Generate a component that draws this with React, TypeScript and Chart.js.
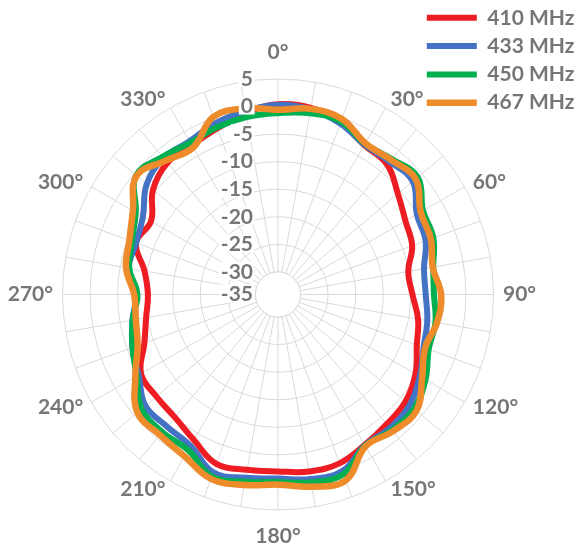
import React, { useEffect, useRef } from 'react';
import { Chart, registerables } from 'chart.js';

Chart.register(...registerables);

// ---------- data ----------
const ANGLES = [0, 10, 20, 30, 40, 50, 60, 70, 80, 90, 100, 110, 120, 130, 140, 150, 160, 170,
  180, 190, 200, 210, 220, 230, 240, 250, 260, 270, 280, 290, 300, 310, 320, 330, 340, 350];
const ANGLE_LABELS = ANGLES.map((a) => `${a}°`);

const SERIES_NAMES = ['410 MHz', '433 MHz', '450 MHz', '467 MHz'];
const SERIES_COLORS = ['#EE1D23', '#4472C4', '#00B050', '#EE8B2B'];

const GAIN_410 = [0.4, 0.3, -0.8, -2.8, -3.3, -5.7, -7.4, -8.2, -10.1, -9.7, -8.3, -7.3, -5.3, -3.9, -3.4, -2.6, -1.5, -1.5,
  -2.0, -1.8, -1.4, -3.6, -5.0, -5.3, -5.4, -8.3, -9.8, -10.5, -9.5, -6.7, -7.5, -4.5, -2.9, -2.8, -2.0, -0.6];
const GAIN_433 = [0.3, 0.0, -1.1, -2.7, -2.6, -2.2, -5.0, -5.6, -7.2, -7.3, -6.6, -6.0, -4.4, -2.9, -2.5, -2.5, 0.0, -0.1,
  -0.7, -0.35, 0.25, -2.4, -2.8, -2.7, -4.9, -6.0, -7.3, -8.3, -6.6, -6.7, -5.8, -3.0, -1.8, -2.0, -1.0, -0.3];
const GAIN_450 = [-1.2, -0.7, -0.7, -2.5, -2.0, -1.0, -3.7, -4.1, -5.5, -5.8, -5.1, -5.0, -3.2, -1.9, -2.0, -2.4, 0.6, 0.5,
  -0.1, 0.4, 1.0, -1.5, -1.5, -1.8, -4.5, -6.0, -7.3, -8.6, -6.7, -5.9, -4.3, -0.5, -1.5, -2.3, -1.8, -1.4];
const GAIN_467 = [-0.6, 0.1, -0.2, -2.4, -2.2, -1.5, -4.2, -4.6, -5.6, -4.5, -4.8, -5.7, -3.9, -1.3, -1.7, -2.3, 1.8, 1.3,
  0.4, 1.0, 1.5, -0.2, -0.8, -0.8, -4.2, -7.0, -7.9, -8.0, -6.1, -5.4, -3.7, -0.6, -2.4, -3.3, 0.2, 0.2];
const SERIES_VALUES = [GAIN_410, GAIN_433, GAIN_450, GAIN_467];

const RADIAL_TICK_LABELS = ['-35', '-30', '-25', '-20', '-15', '-10', '-5', '0', '5'];
const R_MIN = -34.1;
const R_MAX = 5;
const R_STEP = 5;

// ---------- style / layout ----------
const TEXT_GRAY = '#767676';
const GRID_GRAY = '#d9d9d9';
const FONT_FAMILY = 'Lato';
const POINT_LABEL_SIZE = 21;
const TICK_SIZE = 21;
const LEGEND_SIZE = 21;
const LAYOUT = { cx: 278, cy: 294.5, radius: 215.5, labelGap: 9.5, poleShift: 17, tickRight: 25 };
const LEGEND_POS = { left: 419.5, top: 0 };

function placeScale(scale: any) {
  const { cx, cy, radius, labelGap, poleShift } = LAYOUT;
  scale.xCenter = cx;
  scale.yCenter = cy;
  scale.drawingArea = radius;
  const items = scale._pointLabelItems;
  if (!items) return;
  const ctx = scale.ctx;
  ctx.save();
  ctx.font = `bold ${POINT_LABEL_SIZE}px ${FONT_FAMILY}`;
  const lh = POINT_LABEL_SIZE * 1.2;
  items.forEach((it: any, i: number) => {
    const text = scale._pointLabels[i] || '';
    const a = scale.getIndexAngle(i);
    const s = Math.sin(a);
    const c = Math.cos(a);
    const d = radius + labelGap;
    const w = text ? ctx.measureText(text).width : 0;
    let x = cx + d * s;
    let y = cy - d * c;
    if (Math.abs(s) > 1e-3) x += Math.sign(s) * w / 2;
    else y += -Math.sign(c) * poleShift;
    it.textAlign = 'center';
    it.x = x;
    it.y = y - lh / 2;
    it.left = x - w / 2;
    it.right = x + w / 2;
    it.top = y - lh / 2;
    it.bottom = y + lh / 2;
  });
  ctx.restore();
}

const centerHolePlugin = {
  id: 'centerHole',
  beforeDatasetsDraw(chart: any) {
    const sc = chart.scales.r;
    if (!sc) return;
    const ctx = chart.ctx;
    const r = sc.getDistanceFromCenterForValue(-30);
    ctx.save();
    ctx.beginPath();
    ctx.arc(sc.xCenter, sc.yCenter, r, 0, Math.PI * 2);
    ctx.fillStyle = '#ffffff';
    ctx.fill();
    ctx.lineWidth = 1;
    ctx.strokeStyle = GRID_GRAY;
    ctx.stroke();
    ctx.restore();
  },
};

const tickLabelPlugin = {
  id: 'tickLabels',
  afterDatasetsDraw(chart: any) {
    const sc = chart.scales.r;
    if (!sc) return;
    const ctx = chart.ctx;
    ctx.save();
    ctx.font = `bold ${TICK_SIZE}px ${FONT_FAMILY}`;
    ctx.textAlign = 'right';
    ctx.textBaseline = 'middle';
    const xr = sc.xCenter - LAYOUT.tickRight;
    sc.ticks.forEach((t: any, i: number) => {
      const label = RADIAL_TICK_LABELS[i] ?? String(t.value);
      const y = sc.yCenter - sc.getDistanceFromCenterForValue(t.value) - 1;
      const w = ctx.measureText(label).width;
      ctx.fillStyle = '#ffffff';
      ctx.fillRect(xr - w - 2, y - 9, w + 3.5, 18);
      ctx.fillStyle = TEXT_GRAY;
      ctx.fillText(label, xr, y + 1);
    });
    ctx.restore();
  },
};

const legendMovePlugin = {
  id: 'legendMove',
  afterLayout(chart: any) {
    const lg = chart.legend;
    if (!lg) return;
    const w = lg.width;
    const h = lg.height;
    lg.left = LEGEND_POS.left;
    lg.right = LEGEND_POS.left + w;
    lg.top = LEGEND_POS.top;
    lg.bottom = LEGEND_POS.top + h;
  },
};

export default function App() {
  const canvasRef = useRef<HTMLCanvasElement | null>(null);

  useEffect(() => {
    if (!canvasRef.current) return;
    Chart.defaults.font.family = FONT_FAMILY;
    const datasets = SERIES_NAMES.map((name, i) => ({
      label: name,
      data: SERIES_VALUES[i],
      borderColor: SERIES_COLORS[i],
      backgroundColor: SERIES_COLORS[i],
      borderWidth: i === 3 ? 6.5 : 6,
      borderJoinStyle: 'round' as const,
      borderCapStyle: 'round' as const,
      pointRadius: 0,
      pointHoverRadius: 0,
      fill: false,
      tension: 0.4,
      order: SERIES_NAMES.length - 1 - i,
    }));

    const chart = new Chart(canvasRef.current, {
      type: 'radar',
      data: { labels: ANGLE_LABELS, datasets },
      options: {
        animation: false,
        responsive: true,
        maintainAspectRatio: false,
        events: [],
        layout: { padding: 0 },
        scales: {
          r: {
            min: R_MIN,
            max: R_MAX,
            afterFit: placeScale,
            ticks: { stepSize: R_STEP, display: false },
            grid: { circular: true, color: GRID_GRAY, lineWidth: 1 },
            angleLines: { display: true, color: GRID_GRAY, lineWidth: 1 },
            pointLabels: {
              display: true,
              color: TEXT_GRAY,
              font: { family: FONT_FAMILY, size: POINT_LABEL_SIZE, weight: 'bold' },
              callback: (label: string, index: number) => (ANGLES[index] % 30 === 0 ? label : ''),
            },
          },
        },
        plugins: {
          tooltip: { enabled: false },
          legend: {
            display: true,
            position: 'chartArea',
            align: 'start',
            labels: {
              usePointStyle: true,
              pointStyle: 'line',
              pointStyleWidth: 50,
              padding: 7.3,
              color: TEXT_GRAY,
              font: { family: FONT_FAMILY, size: LEGEND_SIZE, weight: 'bold' },
              sort: (a: any, b: any) => a.datasetIndex - b.datasetIndex,
            },
          },
        },
      } as any,
      plugins: [centerHolePlugin, tickLabelPlugin, legendMovePlugin],
    });
    return () => chart.destroy();
  }, []);

  return (
    <div style={{ position: 'fixed', left: 0, top: 0, width: 576, height: 548, background: '#ffffff' }}>
      <canvas ref={canvasRef} />
    </div>
  );
}
